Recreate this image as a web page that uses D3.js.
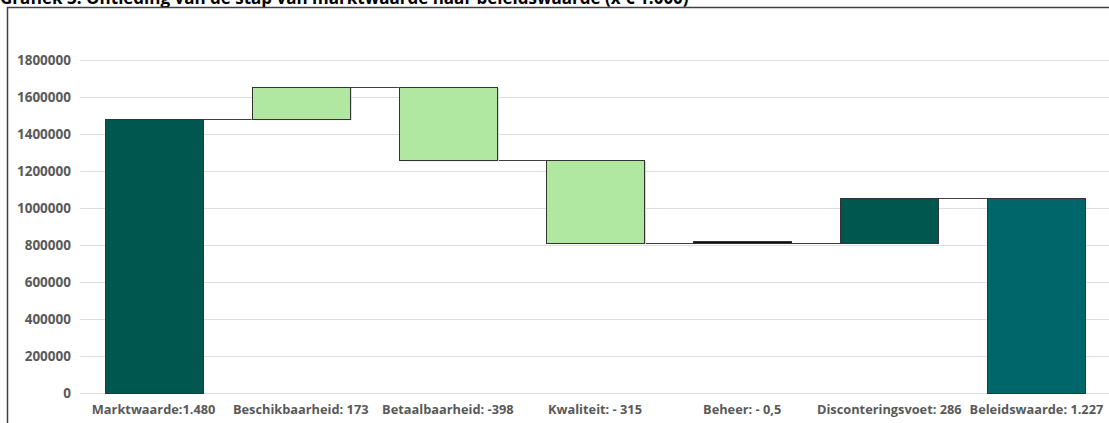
<!DOCTYPE html>
<html>
<head>
<meta charset="utf-8">
<script src="https://cdn.jsdelivr.net/npm/d3@7"></script>
<style>
    html, body { margin: 0; padding: 0; background: #fff; overflow: hidden; }
    svg { display: block; }
    .tick text { font-family: "Open Sans", sans-serif; font-weight: bold; fill: #595959; }
</style>
</head>
<body>
<svg id="chart" width="1109" height="423"></svg>
<script>
'use strict';

/* global d3 */

// categories as printed below the bars
var CATEGORIES = [
    "Marktwaarde:1.480",
    "Beschikbaarheid: 173",
    "Betaalbaarheid: -398",
    "Kwaliteit:  - 315",
    "Beheer:  - 0,5",
    "Disconteringsvoet: 286",
    "Beleidswaarde: 1.227"
];

// where each step starts and ends
var STEP_START = [0, 1480000, 1653000, 1258000, 820000, 811000, 0];
var STEP_END = [1480000, 1653000, 1258000, 811000, 811000, 1053000, 1053000];

// kind of bar: total / step
var STEP_KIND = ["total", "step", "step", "step", "thin", "total", "end"];

var Y_TICKS = [0, 200000, 400000, 600000, 800000, 1000000, 1200000, 1400000, 1600000, 1800000];

var TITLE = "Grafiek 3: Ontleding van de stap van marktwaarde naar beleidswaarde (x € 1.000)";

(function () {
    var colors = {
        total: "#00574f",
        step: "#b1e8a1",
        thin: "#111111",
        end: "#006669"
    };

    var svg = d3.select("#chart");

    var plotLeft = 80, plotRight = 1110, plotTop = 60, plotBottom = 393;

    var x = d3.scaleBand()
        .domain(CATEGORIES)
        .range([plotLeft, plotRight])
        .paddingInner(1 / 3)
        .paddingOuter(1 / 6);

    var y = d3.scaleLinear()
        .domain([0, 1800000])
        .range([plotBottom, plotTop]);

    // title, mostly cut off at the top edge (as in the source)
    svg.append("text")
        .attr("x", 0)
        .attr("y", 4)
        .style("font-family", "Open Sans, sans-serif")
        .style("font-weight", "bold")
        .style("font-size", "17px")
        .style("fill", "#000")
        .text(TITLE);

    // chart frame
    svg.append("rect")
        .attr("x", 7.5)
        .attr("y", 7.5)
        .attr("width", 1300)
        .attr("height", 600)
        .style("fill", "none")
        .style("stroke", "#404040")
        .style("stroke-width", 1.5);

    // gridlines
    svg.append("g")
        .selectAll("line")
        .data(Y_TICKS)
        .enter()
        .append("line")
        .attr("x1", plotLeft)
        .attr("x2", 1109)
        .attr("y1", function (d) { return Math.round(y(d)) + 0.5; })
        .attr("y2", function (d) { return Math.round(y(d)) + 0.5; })
        .style("stroke", "#dedede")
        .style("stroke-width", 1);

    // y axis labels
    var yAxis = d3.axisLeft(y)
        .tickValues(Y_TICKS)
        .tickSize(0)
        .tickPadding(9)
        .tickFormat(function (d) { return String(d); });

    var gy = svg.append("g")
        .attr("transform", "translate(" + plotLeft + ",0)")
        .call(yAxis);
    gy.select(".domain").remove();
    gy.selectAll(".tick text").style("font-size", "13.5px");

    // x axis labels
    var xAxis = d3.axisBottom(x).tickSize(0).tickPadding(12);
    var gx = svg.append("g")
        .attr("transform", "translate(0," + plotBottom + ")")
        .call(xAxis);
    gx.select(".domain").remove();
    gx.selectAll(".tick text").style("font-size", "12.8px");

    var data = CATEGORIES.map(function (c, i) {
        return {
            name: c,
            start: STEP_START[i],
            end: STEP_END[i],
            kind: STEP_KIND[i]
        };
    });

    // connector lines from the end of a step to the next bar
    var links = data.slice(0, -1).map(function (d, i) {
        return {from: d, to: data[i + 1], level: d.end};
    });

    svg.append("g")
        .selectAll("line")
        .data(links)
        .enter()
        .append("line")
        .attr("x1", function (d) { return x(d.from.name) + x.bandwidth(); })
        .attr("x2", function (d) { return x(d.to.name); })
        .attr("y1", function (d) { return Math.round(y(d.level)) + 0.5; })
        .attr("y2", function (d) { return Math.round(y(d.level)) + 0.5; })
        .style("stroke", "#404040")
        .style("stroke-width", 1);

    // soft shadow on the right of the light bars
    svg.append("g")
        .selectAll("rect")
        .data(data.filter(function (d) { return d.kind === "step"; }))
        .enter()
        .append("rect")
        .attr("x", function (d) { return x(d.name) + 2; })
        .attr("y", function (d) { return y(Math.max(d.start, d.end)) + 1; })
        .attr("width", x.bandwidth())
        .attr("height", function (d) { return Math.abs(y(d.start) - y(d.end)); })
        .style("fill", "#d6d6d6");

    // bars
    svg.append("g")
        .selectAll("rect")
        .data(data)
        .enter()
        .append("rect")
        .attr("x", function (d) { return Math.round(x(d.name)) + 0.5; })
        .attr("y", function (d) { return Math.round(y(Math.max(d.start, d.end))) + 0.5; })
        .attr("width", Math.round(x.bandwidth()))
        .attr("height", function (d) { return Math.max(1, Math.round(Math.abs(y(d.start) - y(d.end)))); })
        .style("fill", function (d) { return colors[d.kind]; })
        .style("stroke", "#333333")
        .style("stroke-width", 1);
})();
</script>
</body>
</html>
